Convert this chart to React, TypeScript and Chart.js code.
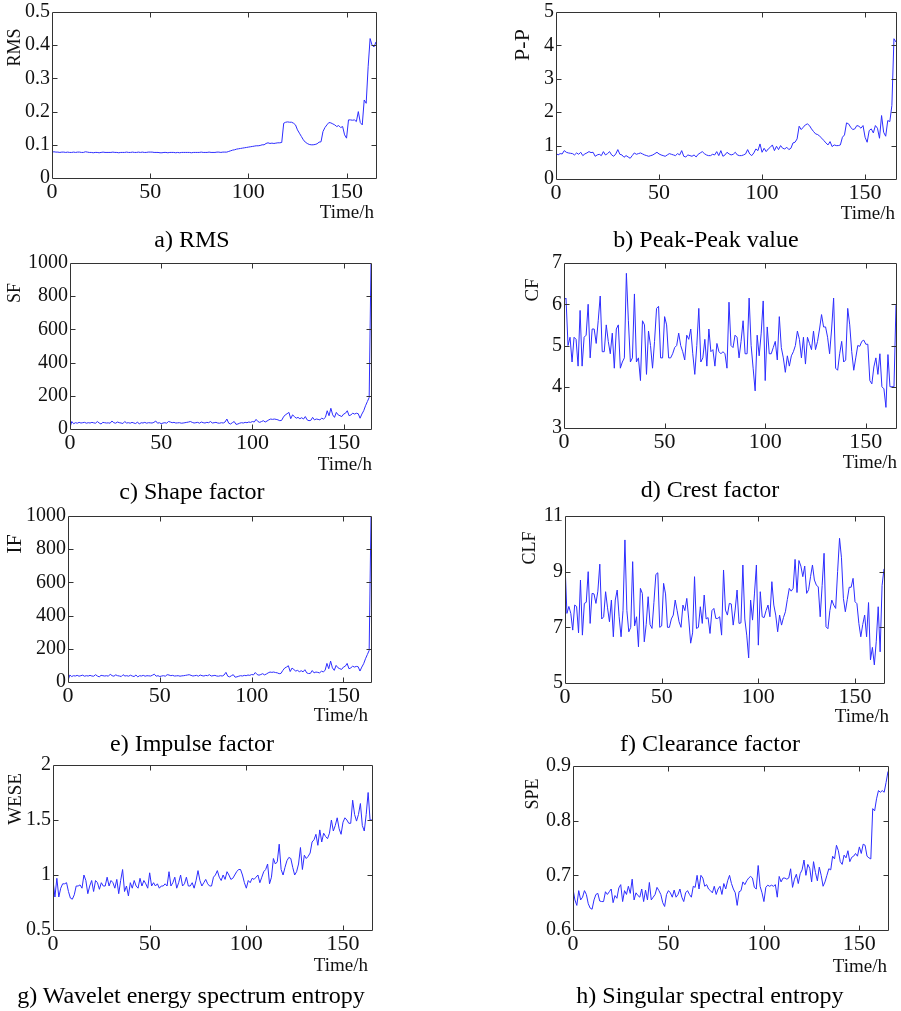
import React, { useEffect, useRef } from "react";
import { Chart, registerables } from "chart.js";

Chart.register(...registerables);

// ---------- data ----------
const HOURS = Array.from({ length: 166 }, (_, i) => i);
const X_MAX = 165;
const X_TICKS = [0, 50, 100, 150];

const RMS = [
  0.078, 0.079, 0.078, 0.078, 0.077, 0.078, 0.078, 0.077, 0.078, 0.077,
  0.077, 0.078, 0.077, 0.078, 0.078, 0.077, 0.077, 0.079, 0.078, 0.077,
  0.077, 0.076, 0.077, 0.077, 0.076, 0.077, 0.078, 0.077, 0.077, 0.077,
  0.077, 0.078, 0.077, 0.077, 0.076, 0.077, 0.077, 0.077, 0.078, 0.077,
  0.077, 0.078, 0.077, 0.077, 0.078, 0.077, 0.078, 0.077, 0.077, 0.078,
  0.078, 0.078, 0.077, 0.077, 0.077, 0.076, 0.076, 0.077, 0.077, 0.076,
  0.077, 0.077, 0.077, 0.076, 0.077, 0.076, 0.077, 0.077, 0.077, 0.077,
  0.077, 0.076, 0.077, 0.077, 0.077, 0.077, 0.078, 0.077, 0.077, 0.077,
  0.078, 0.077, 0.077, 0.077, 0.078, 0.078, 0.077, 0.078, 0.078, 0.078,
  0.080, 0.082, 0.084, 0.085, 0.087, 0.088, 0.089, 0.090, 0.091, 0.092,
  0.093, 0.094, 0.095, 0.096, 0.097, 0.097, 0.098, 0.100, 0.100, 0.104,
  0.106, 0.104, 0.105, 0.104, 0.105, 0.106, 0.106, 0.107, 0.165, 0.168,
  0.169, 0.168, 0.168, 0.165, 0.160, 0.145, 0.135, 0.125, 0.115, 0.108,
  0.104, 0.101, 0.100, 0.100, 0.101, 0.103, 0.108, 0.109, 0.140, 0.152,
  0.160, 0.167, 0.166, 0.163, 0.160, 0.155, 0.158, 0.152, 0.155, 0.130,
  0.120, 0.175, 0.175, 0.174, 0.175, 0.170, 0.200, 0.167, 0.160, 0.235,
  0.225, 0.335, 0.420, 0.400, 0.395, 0.410,
];

const PP = [
  0.78, 0.72, 0.76, 0.75, 0.85, 0.8, 0.78, 0.77, 0.76, 0.72,
  0.78, 0.74, 0.8, 0.7, 0.75, 0.78, 0.82, 0.79, 0.8, 0.68,
  0.72, 0.74, 0.7, 0.82, 0.72, 0.76, 0.82, 0.72, 0.68, 0.75,
  0.88, 0.74, 0.72, 0.65, 0.7, 0.66, 0.62, 0.7, 0.78, 0.74,
  0.76, 0.78, 0.75, 0.72, 0.7, 0.68, 0.7, 0.72, 0.76, 0.8,
  0.75, 0.72, 0.7, 0.68, 0.72, 0.76, 0.74, 0.72, 0.7, 0.76,
  0.72, 0.85, 0.68, 0.66, 0.72, 0.7, 0.68, 0.72, 0.66, 0.74,
  0.78, 0.82, 0.76, 0.72, 0.7, 0.7, 0.74, 0.72, 0.82, 0.7,
  0.85, 0.68, 0.72, 0.8, 0.75, 0.72, 0.74, 0.8, 0.72, 0.7,
  0.7, 0.72, 0.75, 0.88, 0.75, 0.7, 0.78, 0.9, 0.85, 1.05,
  0.8, 0.92, 0.82, 0.9, 0.95, 1.02, 0.85, 0.98, 0.88, 1.0,
  0.92, 0.9, 0.95, 0.88, 0.92, 1.08, 1.1, 1.2, 1.58, 1.48,
  1.55, 1.62, 1.65, 1.6, 1.5, 1.42, 1.35, 1.33, 1.28, 1.22,
  1.15, 1.08, 1.02, 1.12, 0.97, 1.02, 1.0, 1.0, 1.02, 1.25,
  1.32, 1.68, 1.65, 1.55, 1.48, 1.5, 1.6, 1.58, 1.52, 1.6,
  1.25, 1.1, 1.45, 1.5, 1.38, 1.6, 1.52, 1.22, 1.9, 1.4,
  1.28, 1.75, 1.72, 2.2, 4.2, 4.1,
];

const SF = [
  10, 45, 32, 38, 35, 40, 36, 38, 40, 35,
  38, 36, 40, 37, 35, 45, 36, 30, 40, 38,
  36, 37, 35, 48, 38, 35, 42, 38, 36, 33,
  45, 36, 38, 35, 40, 36, 33, 42, 30, 38,
  36, 40, 35, 38, 37, 36, 40, 48, 35, 38,
  32, 36, 38, 35, 45, 42, 38, 40, 36, 37,
  38, 35, 36, 38, 40, 42, 45, 40, 36, 38,
  40, 35, 42, 38, 36, 40, 38, 45, 36, 38,
  40, 36, 35, 38, 36, 42, 60, 35, 30, 38,
  45, 28, 30, 35, 38, 36, 40, 38, 42, 40,
  45, 42, 58, 45, 40, 45, 50, 42, 48, 55,
  60, 58, 60, 58, 55, 50, 52, 72, 85, 92,
  100, 62, 85, 75, 65, 70, 62, 68, 60, 75,
  55, 50, 52, 70, 55, 60, 58, 55, 65, 60,
  70, 110, 80, 125, 85, 70, 100, 85, 80, 75,
  90, 95, 110, 80, 85, 95, 90, 95, 92, 65,
  90, 110, 140, 165, 190, 1000,
];

const CF = [
  6.1, 6.15, 5.0, 5.2, 4.6, 5.2, 5.15, 4.5, 5.85, 4.5,
  5.2, 5.25, 6.0, 4.7, 5.4, 5.4, 5.05, 5.6, 6.2, 4.85,
  4.85, 5.5, 5.1, 4.8, 5.3, 4.45, 5.4, 5.5, 4.45, 4.6,
  4.7, 6.75, 5.6, 4.6, 4.7, 6.25, 4.6, 4.7, 4.15, 5.6,
  5.5, 4.3, 5.35, 5.0, 4.45, 5.1, 5.9, 5.95, 4.7, 4.7,
  5.7, 5.5, 4.7, 4.7, 4.8, 4.95, 5.0, 5.3, 5.0, 4.85,
  4.65, 5.25, 5.15, 5.4, 4.8, 4.3, 5.0, 5.9, 4.6, 4.7,
  5.15, 4.5, 5.4, 4.85, 4.9, 4.5, 5.05, 4.85, 4.8, 4.85,
  4.8, 4.45, 6.05, 5.0, 4.95, 5.25, 5.2, 4.7, 5.1, 5.6,
  4.8, 4.8, 6.15, 5.0, 4.45, 3.9, 5.25, 4.75, 5.3, 6.08,
  4.15, 5.45, 4.8, 4.8, 4.95, 5.1, 4.65, 5.7, 4.95, 4.7,
  4.35, 4.75, 4.5, 4.75, 4.85, 5.0, 5.35, 5.15, 4.7, 5.2,
  4.55, 5.2, 5.05, 4.9, 5.35, 4.9, 5.1, 5.4, 5.75, 5.45,
  5.45, 5.2, 4.8, 5.4, 6.15, 4.45, 4.4, 4.8, 5.1, 4.6,
  4.65, 5.9, 5.5, 4.85, 4.4, 4.7, 5.0, 4.98, 5.1, 5.13,
  5.03, 5.03, 4.15, 4.07, 4.48, 4.7, 4.3, 4.8, 4.0, 3.95,
  3.5, 4.78, 4.0, 4.0, 4.0, 6.0,
];

const IF = [
  10, 42, 33, 38, 36, 40, 35, 38, 41, 35,
  38, 36, 40, 36, 35, 44, 36, 31, 40, 38,
  36, 38, 35, 47, 38, 35, 43, 38, 36, 33,
  44, 36, 38, 35, 41, 36, 33, 42, 31, 38,
  36, 40, 35, 38, 37, 36, 41, 47, 35, 38,
  33, 36, 38, 35, 44, 42, 38, 40, 36, 37,
  38, 35, 37, 38, 40, 42, 44, 40, 36, 38,
  40, 35, 42, 38, 36, 40, 38, 44, 36, 38,
  40, 36, 35, 38, 36, 42, 58, 35, 31, 38,
  44, 29, 31, 35, 38, 36, 40, 38, 42, 40,
  45, 43, 57, 45, 41, 45, 50, 43, 48, 55,
  60, 58, 60, 57, 55, 50, 52, 70, 84, 90,
  98, 63, 84, 75, 66, 70, 62, 68, 61, 74,
  55, 51, 52, 69, 55, 60, 58, 55, 65, 61,
  70, 112, 80, 126, 85, 70, 100, 86, 80, 76,
  90, 95, 112, 80, 85, 95, 90, 94, 92, 66,
  90, 110, 140, 165, 190, 1000,
];

const CLF = [
  9.3, 7.5, 7.75, 7.5, 6.9, 7.8, 7.75, 6.8, 8.7, 6.72,
  7.86, 7.9, 9.0, 7.14, 8.22, 8.2, 7.86, 8.3, 9.27, 7.3,
  7.38, 8.28, 7.7, 7.2, 7.98, 6.66, 7.98, 8.34, 7.38, 6.66,
  7.6, 10.14, 7.6, 6.84, 7.0, 9.36, 7.05, 7.38, 6.3, 8.4,
  8.22, 6.48, 7.1, 8.1, 7.1, 6.96, 7.9, 8.9, 8.96, 7.0,
  7.05, 8.58, 8.2, 7.0, 7.0, 7.3, 7.44, 7.98, 7.6, 7.2,
  7.0, 7.8, 7.6, 8.04, 7.3, 6.43, 6.8, 8.82, 6.96, 7.0,
  7.74, 7.14, 8.16, 7.3, 7.35, 6.78, 7.6, 7.68, 7.32, 7.32,
  7.38, 6.72, 9.06, 7.62, 7.44, 7.86, 7.84, 7.08, 7.62, 8.34,
  7.14, 7.16, 9.24, 7.3, 6.72, 5.9, 7.98, 7.26, 8.2, 9.24,
  6.36, 8.28, 7.38, 7.35, 7.6, 7.8, 7.38, 8.64, 7.8, 7.44,
  6.84, 7.44, 7.08, 7.35, 7.56, 8.0, 8.4, 8.3, 8.4, 9.44,
  8.25, 9.4, 9.2, 8.82, 9.2, 8.22, 8.35, 8.82, 9.24, 8.7,
  8.52, 8.45, 7.38, 8.5, 9.66, 7.02, 6.95, 7.6, 7.98, 7.8,
  7.68, 9.0, 10.2, 9.5, 8.04, 7.56, 8.0, 8.44, 8.44, 8.76,
  7.92, 7.85, 7.14, 6.66, 7.1, 7.44, 6.66, 7.89, 5.83, 6.28,
  5.65, 6.5, 7.74, 6.12, 8.5, 9.1,
];

const WESE = [
  0.95, 0.8, 0.97, 0.8, 0.88, 0.92, 0.92, 0.93, 0.85, 0.79,
  0.78, 0.82, 0.9, 0.9, 0.91, 0.88, 1.0, 0.95, 0.83, 0.9,
  0.95, 0.85, 0.95, 0.93, 0.87, 0.93, 0.9, 0.9, 0.98, 0.9,
  0.95, 0.93, 0.88, 0.96, 0.83, 0.95, 1.05, 0.85, 0.9, 0.81,
  0.93, 0.88, 0.95, 0.9, 0.88, 0.97, 0.9, 0.95, 0.92, 0.88,
  1.02, 0.9, 0.93, 0.9, 0.92, 0.88, 0.9, 0.9, 0.92, 0.9,
  1.03, 0.9, 0.93, 0.98, 0.88, 0.93, 1.0, 0.9, 0.92, 0.98,
  0.9, 0.9, 0.93, 0.88, 0.95, 1.04, 0.95, 0.9, 0.93, 0.96,
  0.92, 0.9, 0.9, 0.98, 1.0, 1.04, 0.98, 0.95, 1.0, 0.96,
  1.03, 1.0, 0.96, 0.97, 1.0, 1.03, 1.05, 1.05, 1.0, 0.93,
  0.88, 0.95, 0.93, 0.97, 0.96, 0.98, 1.0, 0.93, 0.98, 1.03,
  1.05, 1.1, 0.92, 0.98, 1.15, 1.1, 1.12, 1.28, 1.05, 1.0,
  1.07, 1.13, 1.16, 1.15, 1.07, 1.0, 1.03, 1.1, 1.25, 1.05,
  1.18, 1.15, 1.17, 1.2, 1.3, 1.32, 1.37, 1.27, 1.41, 1.3,
  1.38, 1.35, 1.33, 1.38, 1.5, 1.4, 1.45, 1.52, 1.42, 1.37,
  1.48, 1.52, 1.5, 1.47, 1.47, 1.68, 1.55, 1.49, 1.55, 1.65,
  1.45, 1.4, 1.55, 1.75, 1.5, 1.5,
];

const SPE = [
  0.675, 0.655, 0.645, 0.672, 0.655, 0.66, 0.672, 0.665, 0.648, 0.64,
  0.638, 0.655, 0.665, 0.667, 0.653, 0.652, 0.652, 0.67, 0.665, 0.67,
  0.675, 0.65, 0.663, 0.658, 0.677, 0.683, 0.652, 0.672, 0.665, 0.68,
  0.667, 0.693, 0.655, 0.668, 0.663, 0.66, 0.675, 0.652, 0.673, 0.655,
  0.687, 0.655, 0.66, 0.665, 0.678, 0.672, 0.665, 0.65, 0.643, 0.665,
  0.672, 0.668, 0.66, 0.673, 0.66, 0.665, 0.675, 0.66, 0.652, 0.668,
  0.672, 0.665, 0.66, 0.68, 0.678, 0.7, 0.675, 0.7, 0.695, 0.68,
  0.683, 0.675, 0.672, 0.668, 0.68, 0.665, 0.675, 0.68, 0.665, 0.685,
  0.675, 0.69, 0.7, 0.685, 0.675, 0.668, 0.645, 0.67, 0.672, 0.688,
  0.683, 0.69, 0.695, 0.698, 0.695, 0.678, 0.675, 0.718, 0.68, 0.668,
  0.652, 0.678, 0.682, 0.68, 0.682, 0.68, 0.683, 0.66, 0.698, 0.688,
  0.695, 0.695, 0.693, 0.695, 0.712, 0.678, 0.693, 0.702, 0.685, 0.703,
  0.71, 0.728, 0.7, 0.72, 0.713, 0.688, 0.725, 0.705, 0.69, 0.715,
  0.7, 0.68, 0.688, 0.7, 0.712, 0.71, 0.735, 0.73, 0.755, 0.745,
  0.725, 0.72, 0.737, 0.732, 0.745, 0.725, 0.733, 0.735, 0.74, 0.735,
  0.752, 0.74, 0.757, 0.755, 0.735, 0.732, 0.73, 0.822, 0.818, 0.84,
  0.855, 0.852, 0.855, 0.852, 0.87, 0.89,
];

const RMS_TICKS = [0, 0.1, 0.2, 0.3, 0.4, 0.5];
const PP_TICKS = [0, 1, 2, 3, 4, 5];
const SF_TICKS = [0, 200, 400, 600, 800, 1000];
const CF_TICKS = [3, 4, 5, 6, 7];
const IF_TICKS = [0, 200, 400, 600, 800, 1000];
const CLF_TICKS = [5, 7, 9, 11];
const WESE_TICKS = [0.5, 1, 1.5, 2];
const SPE_TICKS = [0.6, 0.7, 0.8, 0.9];

// ---------- layout (positions / styles) ----------
const FONT = "'Liberation Serif', 'Times New Roman', serif";
const LINE_COLOR = "rgb(45,45,255)";
const FRAME_COLOR = "#333333";
const TEXT_COLOR = "#111111";

type PanelDef = {
  values: number[];
  ticks: number[];
  yTitle: string;
  caption: string;
  col: number;
  L: number; R: number; T: number; B: number;
  tx: number; ty: number; tsize: number;
  timeRight: number; timeBase: number;
  capX: number; capBase: number;
};

const PANELS: PanelDef[] = [
  { values: RMS, ticks: RMS_TICKS, yTitle: "RMS", caption: "a) RMS", col: 0,
    L: 52, R: 376, T: 12, B: 178, tx: 15.5, ty: 47.5, tsize: 18, timeRight: 374, timeBase: 218, capX: 192, capBase: 247 },
  { values: PP, ticks: PP_TICKS, yTitle: "P-P", caption: "b) Peak-Peak value", col: 450,
    L: 556, R: 896, T: 12, B: 179, tx: 523.5, ty: 45, tsize: 22, timeRight: 895, timeBase: 219, capX: 706, capBase: 247 },
  { values: SF, ticks: SF_TICKS, yTitle: "SF", caption: "c) Shape factor", col: 0,
    L: 70, R: 371, T: 263, B: 429, tx: 15, ty: 293, tsize: 18, timeRight: 372, timeBase: 470, capX: 192, capBase: 499 },
  { values: CF, ticks: CF_TICKS, yTitle: "CF", caption: "d) Crest factor", col: 450,
    L: 564, R: 896, T: 263, B: 428, tx: 533.5, ty: 290, tsize: 19, timeRight: 897, timeBase: 468, capX: 710, capBase: 497 },
  { values: IF, ticks: IF_TICKS, yTitle: "IF", caption: "e) Impulse factor", col: 0,
    L: 68, R: 371, T: 516, B: 682, tx: 15, ty: 544, tsize: 22, timeRight: 368, timeBase: 721, capX: 192, capBase: 751 },
  { values: CLF, ticks: CLF_TICKS, yTitle: "CLF", caption: "f) Clearance factor", col: 450,
    L: 565, R: 884, T: 516, B: 683, tx: 530.5, ty: 548, tsize: 18, timeRight: 889, timeBase: 722, capX: 710, capBase: 751 },
  { values: WESE, ticks: WESE_TICKS, yTitle: "WESE", caption: "g) Wavelet energy spectrum entropy", col: 0,
    L: 53, R: 372, T: 765, B: 930, tx: 16.5, ty: 799, tsize: 19, timeRight: 368, timeBase: 971, capX: 191, capBase: 1003 },
  { values: SPE, ticks: SPE_TICKS, yTitle: "SPE", caption: "h) Singular spectral entropy", col: 450,
    L: 573, R: 888, T: 766, B: 930, tx: 533, ty: 794, tsize: 18, timeRight: 887, timeBase: 972, capX: 710, capBase: 1003 },
];

const PAD_TOP = 14;
const X_AXIS_H = 50;

function Panel({ p }: { p: PanelDef }) {
  const ref = useRef<HTMLCanvasElement | null>(null);
  const cx = p.col;
  const cw = p.col === 0 ? 450 : 451;
  const ct = p.T - PAD_TOP;
  const ch = p.B - p.T + PAD_TOP + X_AXIS_H;

  useEffect(() => {
    const canvas = ref.current;
    if (!canvas) return;
    const yW = p.L - cx;
    const padR = cw - (p.R - cx);
    const yMin = p.ticks[0];
    const yMax = p.ticks[p.ticks.length - 1];

    const frame = {
      id: "frame" + p.yTitle,
      afterDatasetsDraw(chart: any) {
        const { ctx, chartArea } = chart;
        const xs = chart.scales.x;
        const ys = chart.scales.y;
        const l = Math.round(chartArea.left) + 0.5;
        const r = Math.round(chartArea.right) + 0.5;
        const t = Math.round(chartArea.top) + 0.5;
        const b = Math.round(chartArea.bottom) + 0.5;
        ctx.save();
        ctx.strokeStyle = FRAME_COLOR;
        ctx.lineWidth = 1;
        ctx.beginPath();
        ctx.rect(l, t, r - l, b - t);
        ctx.stroke();
        const TL = 5;
        ctx.beginPath();
        for (const v of X_TICKS) {
          if (v <= 0 || v >= X_MAX) continue;
          const px = Math.round(xs.getPixelForValue(v)) + 0.5;
          ctx.moveTo(px, b); ctx.lineTo(px, b - TL);
          ctx.moveTo(px, t); ctx.lineTo(px, t + TL);
        }
        for (const v of p.ticks) {
          if (v <= yMin || v >= yMax) continue;
          const py = Math.round(ys.getPixelForValue(v)) + 0.5;
          ctx.moveTo(l, py); ctx.lineTo(l + TL, py);
          ctx.moveTo(r, py); ctx.lineTo(r - TL, py);
        }
        ctx.stroke();

        // y-axis title
        ctx.fillStyle = TEXT_COLOR;
        ctx.font = `${p.tsize}px ${FONT}`;
        ctx.save();
        ctx.translate(p.tx - cx, p.ty - ct);
        ctx.rotate(-Math.PI / 2);
        ctx.textAlign = "center";
        ctx.textBaseline = "middle";
        ctx.fillText(p.yTitle, 0, 0);
        ctx.restore();

        // x-axis title
        ctx.font = `19px ${FONT}`;
        ctx.textAlign = "right";
        ctx.textBaseline = "alphabetic";
        ctx.fillText("Time/h", p.timeRight - cx, p.timeBase - ct);
        ctx.restore();
      },
    };

    const chart = new Chart(canvas, {
      type: "line",
      data: {
        labels: HOURS.slice(0, p.values.length),
        datasets: [
          {
            data: p.values,
            borderColor: LINE_COLOR,
            borderWidth: 1,
            pointRadius: 0,
            tension: 0,
            fill: false,
          },
        ],
      },
      options: {
        responsive: false,
        animation: false,
        devicePixelRatio: 1,
        layout: { padding: { left: 0, top: PAD_TOP, right: padR, bottom: 0 } },
        plugins: { legend: { display: false }, tooltip: { enabled: false }, title: { display: false } },
        scales: {
          x: {
            type: "linear",
            min: 0,
            max: X_MAX,
            afterBuildTicks: (s: any) => { s.ticks = X_TICKS.map((v) => ({ value: v })); },
            afterFit: (s: any) => { s.height = X_AXIS_H; },
            grid: { display: false, drawTicks: false },
            border: { display: false },
            ticks: {
              autoSkip: false,
              maxRotation: 0,
              padding: 1,
              color: TEXT_COLOR,
              font: { family: FONT, size: 22 },
              callback: (v: any) => String(v),
            },
          },
          y: {
            type: "linear",
            min: yMin,
            max: yMax,
            afterBuildTicks: (s: any) => { s.ticks = p.ticks.map((v) => ({ value: v })); },
            afterFit: (s: any) => { s.width = yW; },
            grid: { display: false, drawTicks: false },
            border: { display: false },
            ticks: {
              autoSkip: false,
              padding: 2,
              color: TEXT_COLOR,
              font: { family: FONT, size: 20 },
              callback: (v: any) => String(v),
            },
          },
        },
      } as any,
      plugins: [frame],
    });
    return () => chart.destroy();
  }, []);

  return (
    <>
      <canvas
        ref={ref}
        width={cw}
        height={ch}
        style={{ position: "absolute", left: cx, top: ct, width: cw, height: ch }}
      />
      <div
        style={{
          position: "absolute",
          left: p.capX - 230,
          top: p.capBase - 20,
          width: 460,
          textAlign: "center",
          fontFamily: FONT,
          fontSize: 24,
          lineHeight: "24px",
          whiteSpace: "nowrap",
          color: "#000",
        }}
      >
        {p.caption}
      </div>
    </>
  );
}

export default function App() {
  return (
    <div
      style={{
        position: "absolute",
        left: 0,
        top: 0,
        width: 901,
        height: 1011,
        background: "#fff",
        overflow: "hidden",
      }}
    >
      {PANELS.map((p, i) => (
        <Panel key={i} p={p} />
      ))}
    </div>
  );
}
